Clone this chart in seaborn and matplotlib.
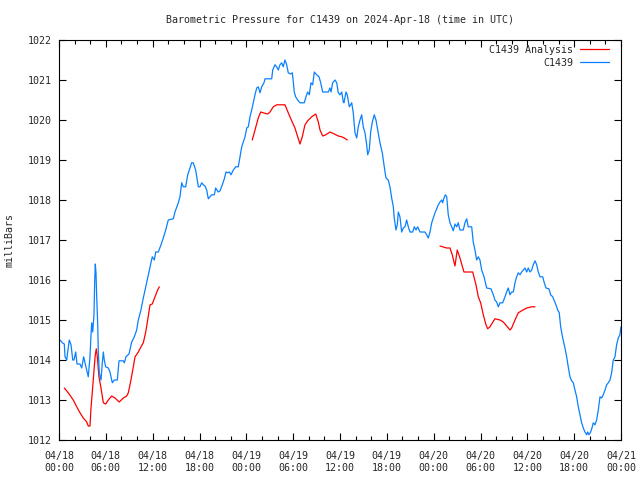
import pandas as pd
import numpy as np
import matplotlib
matplotlib.use("Agg")
import matplotlib.pyplot as plt
import matplotlib.dates as mdates
import seaborn as sns

# hours since 2024-04-18 00:00 UTC, pressure in mbar
obs_hours = [0.13, 0.42, 0.68, 0.77, 0.99, 1.11, 1.32, 1.54, 1.76, 1.92, 2.14, 2.31, 2.69, 2.91,
             3.16, 3.33, 3.55, 3.75, 3.97, 4.10, 4.19, 4.32, 4.48, 4.57, 4.65, 4.74, 4.83, 4.96,
             5.03, 5.16, 5.38, 5.55, 5.68, 5.80, 5.98, 6.32, 6.53, 6.83, 7.08, 7.47, 7.69, 8.24,
             8.37, 8.58, 8.97, 9.31, 9.65, 9.95, 10.16, 10.50, 10.80, 11.11, 11.44, 11.79, 11.95,
             12.21, 12.39, 12.72, 13.07, 13.36, 13.67, 14.00, 14.64, 14.86, 15.28, 15.50, 15.72,
             15.92, 16.23, 16.49, 16.78, 17.00, 17.20, 17.51, 17.85, 18.06, 18.28, 18.49, 18.70,
             18.92, 19.13, 19.34, 19.56, 19.90, 20.07, 20.41, 20.63, 20.92, 21.18, 21.39, 21.61,
             21.82, 22.03, 22.33, 22.64, 22.97, 23.19, 23.41, 23.61, 23.83, 24.05, 24.25, 24.47,
             24.69, 24.89, 25.11, 25.33, 25.53, 25.75, 25.97, 26.26, 26.39, 27.25, 27.38, 27.67,
             27.89, 28.09, 28.31, 28.53, 28.73, 28.95, 29.17, 29.37, 29.68, 29.89, 30.02, 30.14,
             30.32, 30.58, 30.87, 31.42, 31.64, 31.86, 32.07, 32.28, 32.50, 32.71, 33.01, 33.31,
             33.53, 33.78, 34.50, 34.72, 34.85, 35.06, 35.36, 35.58, 35.78, 36.00, 36.22, 36.42,
             36.51, 36.77, 36.93, 37.19, 37.50, 37.70, 37.92, 38.14, 38.34, 38.56, 38.78, 38.98,
             39.20, 39.42, 39.55, 39.75, 39.93, 40.14, 40.39, 40.61, 40.83, 41.12, 41.42, 41.67,
             41.89, 42.18, 42.40, 42.62, 42.83, 42.95, 43.17, 43.34, 43.47, 43.68, 43.90, 44.11,
             44.32, 44.54, 44.75, 44.97, 45.31, 45.52, 45.73, 45.95, 46.25, 46.89, 47.10, 47.31,
             47.53, 47.75, 47.95, 48.17, 48.39, 48.59, 48.81, 49.03, 49.15, 49.32, 49.49, 49.67,
             49.87, 50.09, 50.31, 50.51, 50.73, 50.95, 51.15, 51.37, 51.79, 52.01, 52.23, 52.43,
             52.87, 53.07, 53.29, 53.51, 53.72, 53.93, 54.15, 54.45, 54.79, 55.34, 55.64, 55.85,
             56.07, 56.28, 56.50, 56.84, 57.14, 57.35, 57.56, 57.78, 57.99, 58.20, 58.42, 58.63,
             58.84, 59.06, 59.27, 59.48, 59.70, 59.92, 60.12, 60.34, 60.56, 60.76, 60.98, 61.20,
             61.40, 61.62, 61.97, 62.17, 62.39, 62.77, 62.99, 63.25, 63.41, 63.67, 63.89, 64.09,
             64.27, 64.53, 64.82, 65.04, 65.24, 65.46, 65.68, 65.89, 66.10, 66.32, 66.53, 66.74,
             66.96, 67.17, 67.38, 67.60, 67.73, 67.90, 68.11, 68.28, 68.45, 68.66, 68.88, 69.09,
             69.31, 69.52, 69.73, 69.95, 70.16, 70.37, 70.59, 70.80, 71.01, 71.23, 71.44, 71.65,
             71.86, 71.99]
obs_mbar = [1014.50, 1014.43, 1014.40, 1014.08, 1014.00, 1014.20, 1014.50, 1014.38, 1014.00,
            1014.00, 1014.20, 1013.90, 1013.90, 1013.80, 1014.08, 1013.93, 1013.75, 1013.58,
            1014.08, 1014.63, 1014.93, 1014.70, 1015.13, 1015.95, 1016.40, 1016.18, 1015.58,
            1014.88, 1014.25, 1013.68, 1013.50, 1013.93, 1014.20, 1014.00, 1013.83, 1013.80,
            1013.70, 1013.43, 1013.50, 1013.50, 1013.98, 1013.98, 1013.93, 1014.08, 1014.15,
            1014.45, 1014.58, 1014.75, 1015.00, 1015.25, 1015.55, 1015.83, 1016.13, 1016.45,
            1016.58, 1016.50, 1016.70, 1016.70, 1016.88, 1017.05, 1017.25, 1017.50, 1017.53,
            1017.70, 1017.93, 1018.08, 1018.43, 1018.33, 1018.33, 1018.63, 1018.80, 1018.93,
            1018.93, 1018.75, 1018.33, 1018.33, 1018.43, 1018.38, 1018.35, 1018.25, 1018.03,
            1018.08, 1018.13, 1018.13, 1018.30, 1018.20, 1018.23, 1018.38, 1018.53, 1018.70,
            1018.68, 1018.70, 1018.63, 1018.75, 1018.83, 1018.83, 1019.08, 1019.33, 1019.45,
            1019.58, 1019.80, 1019.83, 1020.08, 1020.25, 1020.43, 1020.63, 1020.80, 1020.83,
            1020.68, 1020.83, 1020.93, 1021.03, 1021.03, 1021.25, 1021.38, 1021.33, 1021.25,
            1021.38, 1021.43, 1021.33, 1021.50, 1021.38, 1021.18, 1021.15, 1021.18, 1020.95,
            1020.70, 1020.58, 1020.50, 1020.43, 1020.43, 1020.58, 1020.70, 1020.63, 1020.93,
            1020.88, 1021.20, 1021.13, 1021.08, 1020.93, 1020.70, 1020.70, 1020.80, 1020.70,
            1020.93, 1021.00, 1020.93, 1020.68, 1020.63, 1020.70, 1020.45, 1020.43, 1020.70,
            1020.63, 1020.33, 1020.43, 1020.18, 1019.68, 1019.55, 1019.83, 1020.00, 1020.13,
            1019.83, 1019.68, 1019.38, 1019.13, 1019.25, 1019.70, 1019.95, 1020.13, 1020.00,
            1019.75, 1019.43, 1019.18, 1018.83, 1018.55, 1018.50, 1018.33, 1018.05, 1017.83,
            1017.55, 1017.25, 1017.38, 1017.70, 1017.58, 1017.20, 1017.30, 1017.33, 1017.50,
            1017.33, 1017.20, 1017.20, 1017.33, 1017.25, 1017.33, 1017.20, 1017.20, 1017.13,
            1017.05, 1017.20, 1017.43, 1017.55, 1017.68, 1017.78, 1017.88, 1017.95, 1018.00,
            1017.93, 1018.05, 1018.13, 1018.08, 1017.63, 1017.43, 1017.33, 1017.23, 1017.40,
            1017.33, 1017.43, 1017.25, 1017.25, 1017.43, 1017.53, 1017.33, 1017.33, 1016.95,
            1016.75, 1016.50, 1016.58, 1016.50, 1016.25, 1016.08, 1015.80, 1015.78, 1015.63,
            1015.50, 1015.45, 1015.33, 1015.43, 1015.43, 1015.58, 1015.70, 1015.80, 1015.63,
            1015.70, 1015.70, 1015.93, 1016.08, 1016.18, 1016.13, 1016.20, 1016.25, 1016.30,
            1016.20, 1016.30, 1016.20, 1016.25, 1016.38, 1016.48, 1016.38, 1016.20, 1016.08,
            1016.08, 1015.93, 1015.80, 1015.78, 1015.63, 1015.58, 1015.50, 1015.38, 1015.25,
            1015.18, 1014.83, 1014.55, 1014.30, 1014.08, 1013.83, 1013.58, 1013.48, 1013.43,
            1013.25, 1013.08, 1012.83, 1012.63, 1012.43, 1012.30, 1012.20, 1012.13, 1012.20,
            1012.13, 1012.20, 1012.30, 1012.43, 1012.38, 1012.50, 1012.75, 1013.08, 1013.05,
            1013.13, 1013.25, 1013.38, 1013.43, 1013.50, 1013.68, 1014.00, 1014.08, 1014.38,
            1014.55, 1014.63, 1014.83]

# analysis comes in three separate runs
ana1_hours = [0.68, 1.19, 1.83, 2.27, 2.69, 3.11, 3.55, 3.75, 3.97, 4.10, 4.32, 4.52, 4.65,
              4.78, 4.91, 5.12, 5.38, 5.68, 5.98, 6.32, 6.75, 7.17, 7.72, 8.24, 8.67, 8.88,
              9.22, 9.52, 9.74, 10.16, 10.50, 10.80, 11.11, 11.36, 11.66, 11.95, 12.30, 12.64,
              12.85]
ana1_mbar = [1013.30, 1013.18, 1013.00, 1012.83, 1012.68, 1012.55, 1012.45, 1012.35, 1012.35,
             1012.80, 1013.33, 1013.83, 1014.13, 1014.28, 1014.08, 1013.58, 1013.30, 1012.93,
             1012.90, 1013.00, 1013.10, 1013.05, 1012.95, 1013.05, 1013.10, 1013.18, 1013.50,
             1013.83, 1014.08, 1014.20, 1014.33, 1014.43, 1014.70, 1015.00, 1015.38, 1015.40,
             1015.58, 1015.75, 1015.83]
ana2_hours = [24.76, 25.11, 25.53, 25.84, 26.17, 26.74, 27.03, 27.45, 27.89, 28.95, 29.37,
              29.81, 30.23, 30.58, 30.87, 31.17, 31.51, 31.86, 32.37, 32.89, 33.22, 33.44,
              33.78, 34.17, 34.72, 35.27, 35.78, 36.22, 36.55, 36.93]
ana2_mbar = [1019.50, 1019.75, 1020.05, 1020.20, 1020.18, 1020.15, 1020.20, 1020.33, 1020.38,
             1020.38, 1020.18, 1019.98, 1019.80, 1019.58, 1019.40, 1019.58, 1019.88, 1019.98,
             1020.08, 1020.15, 1019.95, 1019.75, 1019.60, 1019.63, 1019.70, 1019.65, 1019.60,
             1019.58, 1019.55, 1019.50]
ana3_hours = [48.81, 49.67, 50.09, 50.38, 50.73, 51.02, 51.37, 51.88, 53.00, 53.42, 53.72,
              54.02, 54.36, 54.70, 54.92, 55.21, 55.85, 56.50, 56.92, 57.35, 57.78, 57.99,
              58.42, 58.84, 59.27, 59.92, 60.56, 60.98]
ana3_mbar = [1016.85, 1016.80, 1016.80, 1016.63, 1016.35, 1016.75, 1016.55, 1016.20, 1016.20,
             1015.88, 1015.58, 1015.43, 1015.13, 1014.88, 1014.78, 1014.83, 1015.03, 1015.00,
             1014.95, 1014.85, 1014.75, 1014.80, 1015.00, 1015.18, 1015.23, 1015.30, 1015.33,
             1015.33]

start = pd.Timestamp("2024-04-18 00:00")


def to_frame(hours, mbar):
    return pd.DataFrame({"time": start + pd.to_timedelta(hours, unit="h"), "mbar": mbar})


sns.set_style("ticks")
plt.rcParams["font.family"] = ["DejaVu Sans Mono"]
plt.rcParams["font.size"] = 7.2

fig = plt.figure(figsize=(6.4, 4.8), dpi=100)
ax = fig.add_axes([59 / 640, 40 / 480, 562 / 640, 400 / 480])

red = "#ff0000"
blue = "#0a80ff"
lw = 0.9

for i, (h, m) in enumerate([(ana1_hours, ana1_mbar), (ana2_hours, ana2_mbar), (ana3_hours, ana3_mbar)]):
    sns.lineplot(data=to_frame(h, m), x="time", y="mbar", ax=ax, color=red, linewidth=lw,
                 label="C1439 Analysis" if i == 0 else None, estimator=None, sort=False)
sns.lineplot(data=to_frame(obs_hours, obs_mbar), x="time", y="mbar", ax=ax, color=blue,
             linewidth=lw, label="C1439", estimator=None, sort=False)

ax.set_xlim(start, start + pd.Timedelta(hours=72))
ax.set_ylim(1012, 1022)
ax.set_yticks(range(1012, 1023))
ax.xaxis.set_major_locator(mdates.HourLocator(byhour=[0, 6, 12, 18]))
ax.xaxis.set_minor_locator(mdates.HourLocator(interval=2))
ax.xaxis.set_major_formatter(mdates.DateFormatter("%m/%d\n%H:%M"))

ax.tick_params(which="both", direction="in", top=True, right=True, color="black", width=0.8)
ax.tick_params(which="major", length=5)
ax.tick_params(which="minor", length=3)
ax.tick_params(axis="x", which="major", pad=8, labelsize=7.2)
ax.tick_params(axis="y", pad=5, labelsize=7.2)
for s in ax.spines.values():
    s.set_visible(True)
    s.set_color("black")
    s.set_linewidth(0.8)

ax.set_xlabel("")
ax.set_ylabel("milliBars", fontsize=7.2, labelpad=10)
ax.set_title("Barometric Pressure for C1439 on 2024-Apr-18 (time in UTC)", fontsize=7.2, pad=12)

ax.legend(loc="upper right", bbox_to_anchor=(0.988, 1.0), frameon=False, markerfirst=False,
          handlelength=2.9, handletextpad=0.7, labelspacing=0.3, borderaxespad=0.2,
          borderpad=0.3, fontsize=7.2)

fig.savefig("out.png", dpi=100)
